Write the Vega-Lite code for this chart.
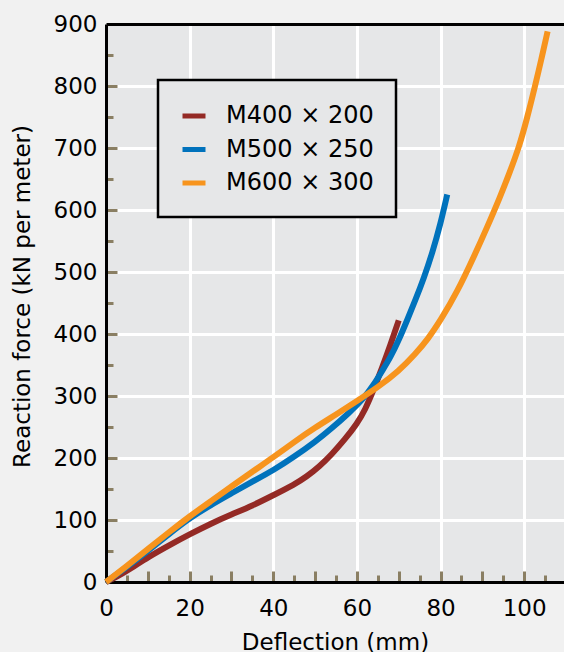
{
  "$schema": "https://vega.github.io/schema/vega-lite/v6.json",
  "width": 460,
  "height": 558,
  "autosize": {"type": "none"},
  "padding": {"left": 106, "top": 24, "right": 0, "bottom": 70},
  "background": "#f1f1f1",
  "config": {
    "view": {"fill": "#e6e7e8", "stroke": null},
    "font": "DejaVu Sans"
  },
  "data": {
    "values": [
      {"s": "M400 × 200", "d": 0, "f": 0},
      {"s": "M400 × 200", "d": 3, "f": 10},
      {"s": "M400 × 200", "d": 6, "f": 22},
      {"s": "M400 × 200", "d": 10, "f": 40},
      {"s": "M400 × 200", "d": 15, "f": 59},
      {"s": "M400 × 200", "d": 20, "f": 77},
      {"s": "M400 × 200", "d": 25, "f": 94},
      {"s": "M400 × 200", "d": 30, "f": 109},
      {"s": "M400 × 200", "d": 35, "f": 123},
      {"s": "M400 × 200", "d": 40, "f": 140},
      {"s": "M400 × 200", "d": 45, "f": 157},
      {"s": "M400 × 200", "d": 48, "f": 170},
      {"s": "M400 × 200", "d": 51, "f": 186},
      {"s": "M400 × 200", "d": 54, "f": 206},
      {"s": "M400 × 200", "d": 57, "f": 229},
      {"s": "M400 × 200", "d": 60, "f": 255},
      {"s": "M400 × 200", "d": 62, "f": 278},
      {"s": "M400 × 200", "d": 64, "f": 310},
      {"s": "M400 × 200", "d": 66, "f": 345},
      {"s": "M400 × 200", "d": 68, "f": 382},
      {"s": "M400 × 200", "d": 70, "f": 422},
      {"s": "M500 × 250", "d": 0, "f": 0},
      {"s": "M500 × 250", "d": 5, "f": 24},
      {"s": "M500 × 250", "d": 10, "f": 50},
      {"s": "M500 × 250", "d": 15, "f": 77},
      {"s": "M500 × 250", "d": 20, "f": 103},
      {"s": "M500 × 250", "d": 25, "f": 124},
      {"s": "M500 × 250", "d": 30, "f": 143},
      {"s": "M500 × 250", "d": 35, "f": 162},
      {"s": "M500 × 250", "d": 40, "f": 180},
      {"s": "M500 × 250", "d": 45, "f": 202},
      {"s": "M500 × 250", "d": 50, "f": 226},
      {"s": "M500 × 250", "d": 54, "f": 248},
      {"s": "M500 × 250", "d": 58, "f": 272},
      {"s": "M500 × 250", "d": 61.5, "f": 295},
      {"s": "M500 × 250", "d": 64, "f": 318},
      {"s": "M500 × 250", "d": 66, "f": 340},
      {"s": "M500 × 250", "d": 68, "f": 362},
      {"s": "M500 × 250", "d": 70, "f": 390},
      {"s": "M500 × 250", "d": 72, "f": 422},
      {"s": "M500 × 250", "d": 74, "f": 455},
      {"s": "M500 × 250", "d": 76, "f": 490},
      {"s": "M500 × 250", "d": 78, "f": 530},
      {"s": "M500 × 250", "d": 80, "f": 578},
      {"s": "M500 × 250", "d": 81.6, "f": 625},
      {"s": "M600 × 300", "d": 0, "f": 0},
      {"s": "M600 × 300", "d": 5, "f": 26},
      {"s": "M600 × 300", "d": 10, "f": 53},
      {"s": "M600 × 300", "d": 15, "f": 80},
      {"s": "M600 × 300", "d": 20, "f": 106},
      {"s": "M600 × 300", "d": 25, "f": 130},
      {"s": "M600 × 300", "d": 30, "f": 154},
      {"s": "M600 × 300", "d": 35, "f": 178},
      {"s": "M600 × 300", "d": 40, "f": 201},
      {"s": "M600 × 300", "d": 45, "f": 226},
      {"s": "M600 × 300", "d": 50, "f": 249},
      {"s": "M600 × 300", "d": 55, "f": 270},
      {"s": "M600 × 300", "d": 60, "f": 292},
      {"s": "M600 × 300", "d": 65, "f": 314},
      {"s": "M600 × 300", "d": 70, "f": 340},
      {"s": "M600 × 300", "d": 74, "f": 368},
      {"s": "M600 × 300", "d": 77, "f": 392},
      {"s": "M600 × 300", "d": 80, "f": 422},
      {"s": "M600 × 300", "d": 84, "f": 468},
      {"s": "M600 × 300", "d": 88, "f": 525},
      {"s": "M600 × 300", "d": 91, "f": 570},
      {"s": "M600 × 300", "d": 94.3, "f": 622},
      {"s": "M600 × 300", "d": 96.5, "f": 660},
      {"s": "M600 × 300", "d": 98.8, "f": 702},
      {"s": "M600 × 300", "d": 100.7, "f": 748},
      {"s": "M600 × 300", "d": 102.6, "f": 800},
      {"s": "M600 × 300", "d": 104, "f": 840},
      {"s": "M600 × 300", "d": 105.6, "f": 888}
    ]
  },
  "layer": [
    {
      "mark": {"type": "line", "opacity": 0},
      "encoding": {
        "x": {"field": "d", "type": "quantitative", "scale": {"domain": [0, 110], "nice": false},
          "axis": {"orient": "bottom", "values": [5, 15, 25, 35, 45, 55, 65, 75, 85, 95, 105], "tickSize": -7, "tickWidth": 3, "tickColor": "#8a7f63", "labels": false, "domain": false, "grid": false, "title": null}},
        "y": {"field": "f", "type": "quantitative", "scale": {"domain": [0, 900], "nice": false},
          "axis": {"orient": "left", "values": [50, 150, 250, 350, 450, 550, 650, 750, 850], "tickSize": -7, "tickWidth": 3, "tickColor": "#8a7f63", "labels": false, "domain": false, "grid": false, "title": null}},
        "detail": {"field": "s"}
      }
    },
    {
      "mark": {"type": "line", "opacity": 0},
      "encoding": {
        "x": {"field": "d", "type": "quantitative",
          "axis": {"orient": "top", "ticks": false, "labels": false, "grid": false, "domain": true, "domainColor": "black", "domainWidth": 3, "title": null}},
        "y": {"field": "f", "type": "quantitative",
          "axis": {"orient": "left", "values": [100, 200, 300, 400, 500, 600, 700, 800], "tickSize": -11, "tickWidth": 3, "tickColor": "#8a7f63", "labels": false, "domain": false, "grid": false, "title": null}},
        "detail": {"field": "s"}
      }
    },
    {
      "mark": {"type": "line", "opacity": 0},
      "encoding": {
        "x": {"field": "d", "type": "quantitative",
          "axis": {"orient": "bottom", "values": [10, 20, 30, 40, 50, 60, 70, 80, 90, 100], "tickSize": -11, "tickWidth": 3, "tickColor": "#8a7f63", "labels": false, "domain": false, "grid": false, "title": null}},
        "y": {"field": "f", "type": "quantitative",
          "axis": {"orient": "right", "ticks": false, "labels": false, "grid": false, "domain": false, "title": null}},
        "detail": {"field": "s"}
      }
    },
    {
      "mark": {"type": "line", "strokeWidth": 6, "interpolate": "basis", "strokeCap": "butt"},
      "encoding": {
        "x": {"field": "d", "type": "quantitative",
          "axis": {"orient": "bottom", "values": [0, 20, 40, 60, 80, 100], "ticks": false, "grid": true, "gridColor": "white", "gridWidth": 3, "gridOpacity": 1,
            "domain": true, "domainColor": "black", "domainWidth": 3, "labelFlush": false,
            "labelFontSize": 23, "labelColor": "black", "labelPadding": 15, "labelFont": "DejaVu Sans",
            "title": "Deflection (mm)", "titleFontSize": 23, "titleFontWeight": "normal", "titleColor": "black", "titleFont": "DejaVu Sans",
            "titleBaseline": "alphabetic", "titleX": 229, "titleY": 67}},
        "y": {"field": "f", "type": "quantitative",
          "axis": {"orient": "left", "values": [0, 100, 200, 300, 400, 500, 600, 700, 800, 900], "ticks": false, "grid": true, "gridColor": "white", "gridWidth": 3, "gridOpacity": 1,
            "domain": true, "domainColor": "black", "domainWidth": 3, "labelFlush": false,
            "labelFontSize": 23, "labelColor": "black", "labelPadding": 9, "labelFont": "DejaVu Sans",
            "title": "Reaction force (kN per meter)", "titleFontSize": 23, "titleFontWeight": "normal", "titleColor": "black", "titleFont": "DejaVu Sans",
            "titleBaseline": "alphabetic", "titleX": -77, "titleY": 272, "titleAngle": -90}},
        "color": {"field": "s", "type": "nominal",
          "scale": {"domain": ["M400 × 200", "M500 × 250", "M600 × 300"], "range": ["#942a25", "#0072bc", "#f7941d"]},
          "legend": {"orient": "none", "legendX": 52, "legendY": 56, "title": null,
            "symbolType": "stroke", "symbolStrokeWidth": 5, "symbolSize": 529,
            "labelFontSize": 24, "labelFont": "DejaVu Sans", "labelColor": "black", "labelOffset": 18,
            "fillColor": "#e6e7e8", "strokeColor": "black", "padding": 22, "rowPadding": 7.5,
            "encode": {"legend": {"update": {"strokeWidth": {"value": 2.5}}}}}}
      }
    }
  ],
  "resolve": {"axis": {"x": "independent", "y": "independent"}}
}
